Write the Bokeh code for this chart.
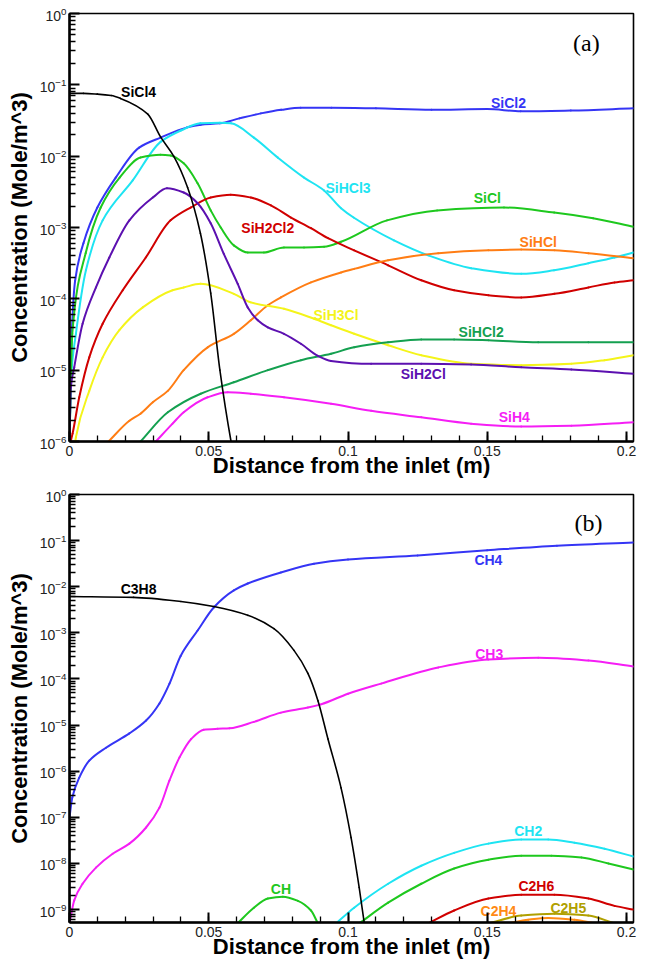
import numpy as np
from bokeh.plotting import figure
from bokeh.layouts import column
from bokeh.models import (FixedTicker, LogTickFormatter, NumeralTickFormatter,
                          ColumnDataSource, Range1d)
from bokeh.core.properties import value
from bokeh.embed import file_html
from bokeh.resources import INLINE

# ---------------- Panel (a): silicon species (x in m, log10 of concentration) -------------
sicl4_x = [0, 0.005, 0.01, 0.015, 0.0183, 0.0281, 0.0327, 0.0374, 0.0424, 0.047, 0.0507, 0.054, 0.058, 0.0605]
sicl4_lg = [-1.12, -1.12, -1.13, -1.15, -1.19, -1.41, -1.73, -2.0, -2.44, -3.08, -3.92, -5.0, -6.0, -6.5]

sicl2_x = [0, 0.0008, 0.002, 0.005, 0.01, 0.0166, 0.025, 0.0327, 0.042, 0.0471, 0.054, 0.061, 0.0687, 0.076, 0.083, 0.094, 0.11, 0.13, 0.15, 0.162, 0.18, 0.2025]
sicl2_lg = [-6.0, -4.5, -3.75, -3.22, -2.72, -2.3, -1.88, -1.74, -1.6, -1.56, -1.54, -1.47, -1.40, -1.35, -1.32, -1.32, -1.33, -1.35, -1.34, -1.37, -1.36, -1.33]

sicl_x = [0, 0.001, 0.0058, 0.0112, 0.018, 0.0255, 0.0327, 0.0363, 0.041, 0.046, 0.0507, 0.0543, 0.059, 0.064, 0.0698, 0.077, 0.0842, 0.0914, 0.0975, 0.114, 0.132, 0.156, 0.174, 0.188, 0.2025]
sicl_lg = [-6.0, -4.49, -3.36, -2.72, -2.3, -2.02, -1.98, -1.99, -2.1, -2.38, -2.76, -3.0, -3.25, -3.35, -3.35, -3.28, -3.28, -3.27, -3.2, -2.9, -2.76, -2.72, -2.79, -2.87, -2.99]

sihcl3_x = [0, 0.0005, 0.0023, 0.0059, 0.0119, 0.0227, 0.0327, 0.040, 0.047, 0.054, 0.058, 0.0662, 0.0748, 0.0842, 0.0914, 0.0975, 0.102, 0.1165, 0.1288, 0.1442, 0.1622, 0.174, 0.1863, 0.1957, 0.2025]
sihcl3_lg = [-6.0, -5.15, -4.49, -3.6, -2.9, -2.34, -1.8, -1.64, -1.54, -1.53, -1.54, -1.74, -2.02, -2.3, -2.48, -2.73, -2.86, -3.18, -3.39, -3.57, -3.65, -3.6, -3.5, -3.42, -3.35]

sih2cl2_x = [0.0004, 0.0011, 0.0035, 0.0071, 0.0119, 0.0191, 0.0274, 0.0363, 0.0435, 0.0507, 0.0579, 0.0651, 0.0723, 0.0795, 0.0867, 0.0928, 0.1022, 0.1144, 0.1263, 0.1381, 0.1504, 0.1622, 0.1741, 0.1863, 0.1957, 0.2025]
sih2cl2_lg = [-6.0, -5.89, -5.38, -4.82, -4.35, -3.88, -3.42, -2.9, -2.72, -2.58, -2.54, -2.58, -2.69, -2.86, -3.01, -3.15, -3.32, -3.53, -3.74, -3.88, -3.95, -3.98, -3.93, -3.84, -3.77, -3.74]

sih2cl_x = [0, 0.0005, 0.0017, 0.0047, 0.0095, 0.0143, 0.0215, 0.0299, 0.035, 0.041, 0.046, 0.0507, 0.0554, 0.0604, 0.064, 0.0676, 0.0712, 0.077, 0.0831, 0.0892, 0.0939, 0.1083, 0.1263, 0.1442, 0.1622, 0.1802, 0.2025]
sih2cl_lg = [-6.0, -5.24, -4.96, -4.35, -3.84, -3.42, -2.9, -2.58, -2.45, -2.51, -2.66, -2.94, -3.37, -3.79, -4.12, -4.3, -4.4, -4.49, -4.63, -4.8, -4.87, -4.91, -4.91, -4.92, -4.96, -4.99, -5.05]

sih3cl_x = [0.0018, 0.0023, 0.0071, 0.0119, 0.0179, 0.0263, 0.037, 0.041, 0.0471, 0.059, 0.0651, 0.077, 0.0878, 0.0939, 0.1022, 0.1144, 0.1263, 0.1442, 0.1622, 0.1802, 0.1921, 0.2025]
sih3cl_lg = [-6.1, -5.94, -5.29, -4.82, -4.44, -4.12, -3.88, -3.84, -3.79, -3.93, -4.05, -4.14, -4.28, -4.37, -4.49, -4.65, -4.79, -4.91, -4.93, -4.91, -4.86, -4.79]

sihcl_x = [0.014, 0.0215, 0.0255, 0.0299, 0.0353, 0.041, 0.0496, 0.059, 0.0651, 0.0712, 0.0759, 0.0867, 0.0975, 0.1022, 0.1144, 0.1324, 0.1504, 0.1622, 0.1741, 0.1863, 0.2025]
sihcl_lg = [-6.0, -5.71, -5.61, -5.45, -5.29, -5.0, -4.68, -4.49, -4.3, -4.09, -3.98, -3.77, -3.63, -3.58, -3.46, -3.36, -3.32, -3.31, -3.32, -3.36, -3.43]

sihcl2_x = [0.0255, 0.0353, 0.0471, 0.059, 0.0712, 0.0831, 0.0939, 0.1022, 0.1144, 0.1263, 0.1381, 0.1504, 0.1683, 0.1863, 0.2025]
sihcl2_lg = [-6.0, -5.59, -5.33, -5.17, -5.0, -4.86, -4.77, -4.68, -4.61, -4.57, -4.57, -4.58, -4.61, -4.61, -4.61]

sih4_x = [0.031, 0.037, 0.041, 0.0496, 0.0568, 0.0651, 0.077, 0.0939, 0.1083, 0.1263, 0.1442, 0.1622, 0.1802, 0.2025]
sih4_lg = [-6.0, -5.75, -5.59, -5.38, -5.31, -5.33, -5.38, -5.47, -5.57, -5.66, -5.75, -5.79, -5.78, -5.73]

# ---------------- Panel (b): carbon species -------------
c3h8_x = [0, 0.023, 0.040, 0.0518, 0.064, 0.0734, 0.0806, 0.0856, 0.0892, 0.0928, 0.0975, 0.1011, 0.104, 0.1058, 0.107]
c3h8_lg = [-2.21, -2.23, -2.32, -2.43, -2.62, -2.91, -3.38, -3.88, -4.47, -5.3, -6.36, -7.44, -8.52, -9.28, -9.8]

ch4_x = [0, 0.001, 0.0035, 0.0071, 0.0131, 0.0215, 0.0275, 0.0323, 0.0359, 0.0399, 0.046, 0.0518, 0.059, 0.064, 0.0759, 0.0878, 0.1, 0.125, 0.15, 0.175, 0.2025]
ch4_lg = [-7.0, -6.57, -6.14, -5.77, -5.49, -5.18, -4.9, -4.53, -4.1, -3.5, -2.95, -2.45, -2.08, -1.93, -1.69, -1.5, -1.41, -1.32, -1.21, -1.11, -1.04]

ch3_x = [0, 0.0017, 0.0047, 0.0095, 0.0155, 0.0215, 0.0275, 0.0323, 0.0359, 0.0395, 0.0437, 0.0482, 0.0532, 0.0575, 0.0662, 0.0759, 0.0856, 0.0903, 0.1, 0.1119, 0.1324, 0.1504, 0.1683, 0.1863, 0.2025]
ch3_lg = [-9.3, -8.8, -8.44, -8.09, -7.79, -7.57, -7.22, -6.79, -6.2, -5.7, -5.3, -5.1, -5.08, -5.07, -4.93, -4.73, -4.62, -4.55, -4.32, -4.1, -3.75, -3.58, -3.54, -3.6, -3.73]

ch2_x = [0.0957, 0.1022, 0.1144, 0.1263, 0.1381, 0.1504, 0.1622, 0.1719, 0.1813, 0.1921, 0.2025]
ch2_lg = [-9.3, -8.96, -8.44, -8.05, -7.77, -7.57, -7.48, -7.48, -7.55, -7.68, -7.85]

ch_x = [0.0603, 0.0662, 0.0712, 0.0766, 0.082, 0.0867, 0.0892, 0.0960, 0.104, 0.1144, 0.1263, 0.1381, 0.1504, 0.1622, 0.173, 0.1838, 0.1935, 0.2025]
ch_lg = [-9.3, -8.96, -8.76, -8.72, -8.81, -9.02, -9.3, np.nan, -9.3, -8.85, -8.44, -8.11, -7.92, -7.83, -7.83, -7.87, -8.0, -8.13]

c2h6_x = [0.1288, 0.1381, 0.1504, 0.1622, 0.1741, 0.1863, 0.1957, 0.2025]
c2h6_lg = [-9.3, -9.02, -8.76, -8.68, -8.68, -8.76, -8.92, -9.0]

c2h5_x = [0.1504, 0.1622, 0.1741, 0.1863, 0.1957]
c2h5_lg = [-9.3, -9.13, -9.09, -9.13, -9.3]

c2h4_x = [0.1576, 0.1647, 0.1719, 0.1813, 0.1885]
c2h4_lg = [-9.3, -9.22, -9.18, -9.22, -9.3]

# species names / label anchors (data coords: x, log10 conc)
top_names = ["SiCl4", "SiCl2", "SiHCl3", "SiCl", "SiH2Cl2", "SiHCl", "SiH3Cl", "SiHCl2", "SiH2Cl", "SiH4"]
top_lab_x = [0.0248, 0.1576, 0.1, 0.15, 0.0712, 0.1683, 0.0957, 0.1478, 0.127, 0.1597]
top_lab_lg = [-1.1, -1.26, -2.45, -2.59, -3.0, -3.21, -4.23, -4.47, -5.06, -5.66]

bot_names = ["C3H8", "CH4", "CH3", "CH2", "CH", "C2H6", "C2H4", "C2H5"]
bot_lab_x = [0.0248, 0.1504, 0.1507, 0.1647, 0.0759, 0.1676, 0.154, 0.1791]
bot_lab_lg = [-2.04, -1.41, -3.45, -7.29, -8.55, -8.48, -9.02, -8.96]

x_ticks = [0, 0.05, 0.1, 0.15, 0.2]

COL = {
    "SiCl4": "#000000", "SiCl2": "#3535f5", "SiHCl3": "#1ee4f2", "SiCl": "#1ec81e",
    "SiH2Cl2": "#d00000", "SiHCl": "#ff7d14", "SiH3Cl": "#f4f41a", "SiHCl2": "#14a050",
    "SiH2Cl": "#5c10b0", "SiH4": "#f51ef5",
    "C3H8": "#000000", "CH4": "#3535f5", "CH3": "#f51ef5", "CH2": "#1ee4f2", "CH": "#1ec81e",
    "C2H6": "#d00000", "C2H4": "#ff8a14", "C2H5": "#b0a000",
}

SANS = "Liberation Sans"


def smooth_curve(p, xs, lg, color, width):
    """Draw the read points as a smooth monotone (PCHIP-like) cubic curve with bezier glyphs."""
    x = np.asarray(xs, dtype=float)
    y = np.asarray(lg, dtype=float)
    runs, cur = [], []
    for xi, yi in zip(x, y):
        if np.isnan(yi):
            if len(cur) > 1:
                runs.append(cur)
            cur = []
        else:
            cur.append((xi, yi))
    if len(cur) > 1:
        runs.append(cur)
    X0, Y0, X1, Y1, CX0, CY0, CX1, CY1 = ([] for _ in range(8))
    for run in runs:
        rx = np.array([r[0] for r in run])
        ry = np.array([r[1] for r in run])
        n = len(rx)
        h = np.diff(rx)
        d = np.diff(ry) / h
        m = np.zeros(n)
        m[0], m[-1] = d[0], d[-1]
        for k in range(1, n - 1):
            if d[k - 1] * d[k] <= 0:
                m[k] = 0.0
            else:
                w1 = 2 * h[k] + h[k - 1]
                w2 = h[k] + 2 * h[k - 1]
                m[k] = (w1 + w2) / (w1 / d[k - 1] + w2 / d[k])
        for k in range(n - 1):
            X0.append(rx[k]); Y0.append(10.0 ** ry[k])
            X1.append(rx[k + 1]); Y1.append(10.0 ** ry[k + 1])
            CX0.append(rx[k] + h[k] / 3); CY0.append(10.0 ** (ry[k] + m[k] * h[k] / 3))
            CX1.append(rx[k + 1] - h[k] / 3); CY1.append(10.0 ** (ry[k + 1] - m[k + 1] * h[k] / 3))
    src = ColumnDataSource(dict(x0=X0, y0=Y0, x1=X1, y1=Y1, cx0=CX0, cy0=CY0, cx1=CX1, cy1=CY1))
    p.bezier(x0="x0", y0="y0", x1="x1", y1="y1", cx0="cx0", cy0="cy0", cx1="cx1", cy1="cy1",
             source=src, line_color=color, line_width=width, line_cap="round")


def make_panel(ymin_exp, frame_top, panel_tag, tag_x, tag_lg):
    ymin = 10.0 ** ymin_exp
    p = figure(frame_width=564, frame_height=428, x_axis_type="linear", y_axis_type="log",
               x_range=Range1d(0, 0.2025), y_range=Range1d(ymin, 1.0),
               output_backend="svg", toolbar_location=None,
               min_border_left=69, min_border_right=17, min_border_top=frame_top,
               min_border_bottom=39)
    p.xgrid.visible = False
    p.ygrid.visible = False
    p.outline_line_color = "black"
    p.outline_line_width = 1.6
    p.background_fill_color = "white"
    p.border_fill_color = "white"

    exps = list(range(int(np.ceil(ymin_exp)), 1))
    majors = [10.0 ** e for e in exps]
    minors = [k * 10.0 ** e for e in range(int(np.floor(ymin_exp)), 0) for k in range(2, 10)]
    minors = [mm for mm in minors if mm >= ymin]
    p.yaxis.ticker = FixedTicker(ticks=majors, minor_ticks=minors)
    p.yaxis.formatter = LogTickFormatter()
    p.xaxis.ticker = FixedTicker(ticks=x_ticks, minor_ticks=[i * 0.01 for i in range(0, 21)])
    p.xaxis.formatter = NumeralTickFormatter(format="0.[00]")

    for ax in (p.xaxis, p.yaxis):
        ax.axis_line_width = 2.5
        ax.axis_line_color = "black"
        ax.major_tick_in = 10
        ax.major_tick_out = 0
        ax.minor_tick_in = 6
        ax.minor_tick_out = 0
        ax.major_tick_line_width = 2
        ax.minor_tick_line_width = 1.3
        ax.major_label_text_font = SANS
        ax.major_label_text_font_size = "14px"
        ax.major_label_text_color = "#222222"
        ax.axis_label_text_font = SANS
        ax.axis_label_text_font_style = "bold"
        ax.axis_label_text_font_size = "22px"
        ax.axis_label_text_color = "black"
    p.xaxis.axis_label = "Distance from the inlet (m)"
    p.yaxis.axis_label = "Concentration (Mole/m^3)"
    p.xaxis.major_label_standoff = 4
    p.xaxis.axis_label_standoff = -6
    p.yaxis.major_label_standoff = 3
    p.yaxis.axis_label_standoff = 5

    p.text(x=[tag_x], y=[10.0 ** tag_lg], text=[panel_tag], text_font=value("Liberation Serif"),
           text_font_size="24px", text_color="black", text_align="center",
           text_baseline="middle")
    return p


pa = make_panel(-6, 13, "(a)", 0.1856, -0.41)
top_series = [
    ("SiCl2", sicl2_x, sicl2_lg), ("SiHCl3", sihcl3_x, sihcl3_lg), ("SiCl", sicl_x, sicl_lg),
    ("SiH2Cl2", sih2cl2_x, sih2cl2_lg), ("SiHCl", sihcl_x, sihcl_lg), ("SiH3Cl", sih3cl_x, sih3cl_lg),
    ("SiHCl2", sihcl2_x, sihcl2_lg), ("SiH2Cl", sih2cl_x, sih2cl_lg), ("SiH4", sih4_x, sih4_lg),
    ("SiCl4", sicl4_x, sicl4_lg),
]
for name, xs, lg in top_series:
    smooth_curve(pa, xs, lg, COL[name], 1.6 if name == "SiCl4" else 2.0)
pa.text(x="x", y="y", text="t", text_color="c",
        source=ColumnDataSource(dict(x=top_lab_x, y=list(10.0 ** np.array(top_lab_lg)),
                                     t=top_names, c=[COL[n] for n in top_names])),
        text_font=value(SANS), text_font_style="bold", text_font_size="14px",
        text_align="center", text_baseline="middle")

pb = make_panel(-9.28, 14, "(b)", 0.1863, -0.61)
bot_series = [
    ("CH4", ch4_x, ch4_lg), ("CH3", ch3_x, ch3_lg), ("CH2", ch2_x, ch2_lg), ("CH", ch_x, ch_lg),
    ("C2H6", c2h6_x, c2h6_lg), ("C2H5", c2h5_x, c2h5_lg), ("C2H4", c2h4_x, c2h4_lg),
    ("C3H8", c3h8_x, c3h8_lg),
]
for name, xs, lg in bot_series:
    smooth_curve(pb, xs, lg, COL[name], 1.6 if name == "C3H8" else 2.0)
pb.text(x="x", y="y", text="t", text_color="c",
        source=ColumnDataSource(dict(x=bot_lab_x, y=list(10.0 ** np.array(bot_lab_lg)),
                                     t=bot_names, c=[COL[n] for n in bot_names])),
        text_font=value(SANS), text_font_style="bold", text_font_size="14px",
        text_align="center", text_baseline="middle")

layout = column(pa, pb, spacing=0)
open("out.html", "w").write(file_html(layout, INLINE))
